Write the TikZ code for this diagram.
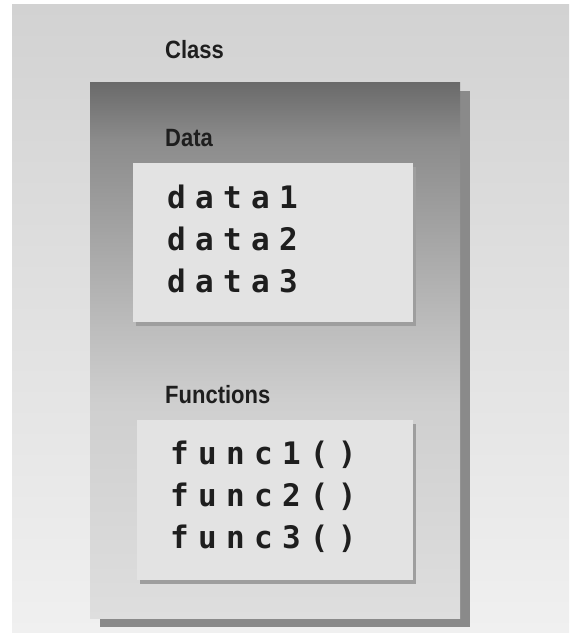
\documentclass[tikz,border=0pt]{standalone}
\usepackage{fontspec}
\newfontfamily\labelfont{Liberation Sans}[FakeStretch=0.88]
\newfontfamily\codefont{DejaVu Sans Mono}[LetterSpace=30]
\usetikzlibrary{positioning,shadows}

\definecolor{bgtop}{HTML}{D2D2D2}
\definecolor{bgbot}{HTML}{F0F0F0}
\definecolor{boxtop}{HTML}{6A6A6A}
\definecolor{boxhigh}{HTML}{8C8C8C}
\definecolor{boxmid}{HTML}{BDBDBD}
\definecolor{boxlow}{HTML}{CFCFCF}
\definecolor{boxbot}{HTML}{DEDEDE}
\definecolor{boxfill}{HTML}{E3E3E3}
\definecolor{shadowdark}{HTML}{8A8A8A}
\definecolor{shadowlight}{HTML}{9E9E9E}
\definecolor{inktext}{HTML}{1E1E1E}

% only the middle band (25bp..75bp) lands on the box
\pgfdeclareverticalshading{classshade}{100bp}{color(0bp)=(boxbot); color(25bp)=(boxbot);
  color(45bp)=(boxlow); color(52bp)=(boxmid); color(69.5bp)=(boxhigh);
  color(75bp)=(boxtop); color(100bp)=(boxtop)}

\begin{document}
\begin{tikzpicture}[x=1pt,y=-1pt,node distance=42pt,
	heading/.style={font=\labelfont\bfseries\fontsize{25}{25}\selectfont, text=inktext, inner sep=0pt, anchor=west},
	code/.style={font=\codefont\bfseries\fontsize{31}{31}\selectfont, text=inktext, inner sep=0pt, anchor=base west},
	classbox/.style={shade, shading=classshade, inner sep=0pt, anchor=north west,
		drop shadow={shadow xshift=10pt, shadow yshift=-9pt, fill=shadowdark, opacity=1}},
	memberbox/.style={fill=boxfill, inner sep=0pt, anchor=north west,
		drop shadow={shadow xshift=3pt, shadow yshift=-4pt, fill=shadowlight, opacity=1}}]
	\fill[white] (0,0) rectangle (574,633);
	\useasboundingbox (0,0) rectangle (574,633);
	\fill[top color=bgtop, bottom color=bgbot] (12,4) rectangle (569,633);

	\node (cls) [heading] at (165,50) {Class};
	\node (clsbox) [classbox, minimum width=370pt, minimum height=536pt] at (90,82) {};

	% data part
	\node (datalbl) [heading] at (165,138) {Data};
	\node (databox) [memberbox, minimum width=280pt, minimum height=159pt] at (133,163) {};
	\node (d1) [code] at (167,208) {data1};
	\node (d2) [code, below of = d1] {data2};
	\node (d3) [code, below of = d2] {data3};

	% function part
	\node (funclbl) [heading] at (165,395) {Functions};
	\node (funcbox) [memberbox, minimum width=276pt, minimum height=160pt] at (137,420) {};
	\node (f1) [code] at (170,464) {func1()};
	\node (f2) [code, below of = f1] {func2()};
	\node (f3) [code, below of = f2] {func3()};
\end{tikzpicture}
\end{document}
